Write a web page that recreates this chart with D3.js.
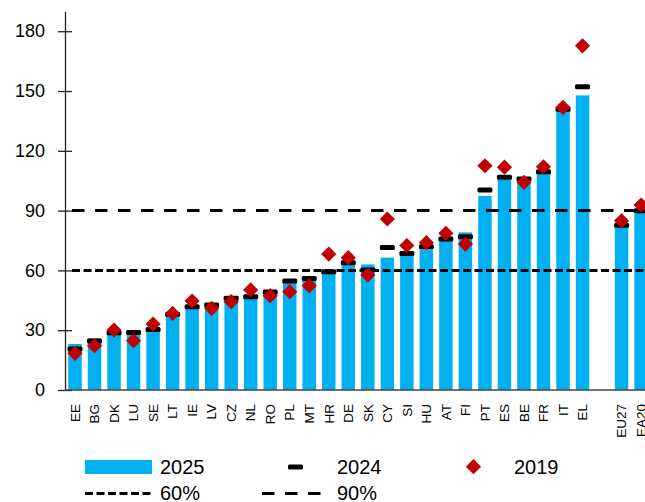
<!DOCTYPE html>
<html>
<head>
<meta charset="utf-8">
<script src="https://cdn.jsdelivr.net/npm/d3@7"></script>
<style>
  html, body { margin: 0; padding: 0; background: #fff; }
  svg { display: block; font-family: "Liberation Sans", Arial, sans-serif; }
</style>
</head>
<body>
<div id="chart"></div>
<script>
// ---- data ----
const categories = ["EE","BG","DK","LU","SE","LT","IE","LV","CZ","NL","RO","PL","MT","HR","DE","SK","CY","SI","HU","AT","FI","PT","ES","BE","FR","IT","EL","","EU27","EA20"];
const values2025 = [23.1,25.9,28.3,27.6,30.9,37.6,41.0,42.0,45.1,46.0,49.5,55.7,56.5,58.8,62.7,63.0,66.4,67.7,70.5,74.9,79.1,97.3,105.7,105.0,108.7,140.4,147.8,null,81.6,88.9];
const values2024 = [20.6,24.6,28.7,28.9,30.4,38.0,41.8,42.6,46.0,46.8,49.2,54.7,56.0,59.3,63.9,60.2,71.5,68.5,71.9,75.7,76.9,100.3,106.7,105.8,109.5,140.8,152.1,null,82.7,89.9];
const values2019 = [18.4,22.2,30.1,24.7,33.1,38.4,44.6,41.0,44.3,50.2,47.3,49.3,52.3,68.2,66.4,57.7,85.8,72.5,73.9,78.6,73.2,112.5,111.8,104.2,112.0,141.8,172.7,null,84.9,92.8];
const refLines = [{label:"60%", value:60, dash:"8,3.5"}, {label:"90%", value:90, dash:"12.5,10.5"}];
const yTicks = [0,30,60,90,120,150,180];
const legendLabels = ["2025","2024","2019","60%","90%"];

// ---- layout ----
const W = 645, H = 502;
const BLUE = "#00B0F0", RED = "#C00000";
const svg = d3.select("#chart").append("svg").attr("width", W).attr("height", H);

const x = d3.scaleBand().domain(categories).range([65, 651.1]).paddingInner(0.31).paddingOuter(0.1675);
const y = d3.scaleLinear().domain([0, 190]).range([390, 11.3]);

const idx = categories.map((c, i) => i).filter(i => values2025[i] != null);

// bars
svg.append("g").selectAll("rect").data(idx).join("rect")
  .attr("x", i => x(categories[i]))
  .attr("width", x.bandwidth())
  .attr("y", i => y(values2025[i]))
  .attr("height", i => y(0) - y(values2025[i]))
  .attr("fill", BLUE);

// reference lines
svg.append("g").selectAll("line").data(refLines).join("line")
  .attr("x1", 72).attr("x2", W)
  .attr("y1", d => y(d.value)).attr("y2", d => y(d.value))
  .attr("stroke", "#000").attr("stroke-width", 3)
  .attr("stroke-dasharray", d => d.dash);

// 2024 dashes
svg.append("g").selectAll("rect").data(idx).join("rect")
  .attr("x", i => x(categories[i]) + x.bandwidth() / 2 - 7.5)
  .attr("width", 15)
  .attr("y", i => y(values2024[i]) - 2.5)
  .attr("height", 5)
  .attr("rx", 1.5)
  .attr("fill", "#000");

// 2019 diamonds
const diamond = "M0,-7.6L7.6,0L0,7.6L-7.6,0Z";
svg.append("g").selectAll("path").data(idx).join("path")
  .attr("d", diamond)
  .attr("transform", i => `translate(${x(categories[i]) + x.bandwidth() / 2},${y(values2019[i])})`)
  .attr("fill", RED);

// y axis
const yAxis = svg.append("g").attr("transform", "translate(65,0)")
  .call(d3.axisLeft(y).tickValues(yTicks).tickSizeOuter(0).tickSizeInner(7).tickPadding(13));
yAxis.select(".domain").attr("stroke", "#222").attr("stroke-width", 1.3);
yAxis.selectAll(".tick line").attr("x1", -7).attr("x2", 7).attr("stroke", "#222").attr("stroke-width", 1.3);
yAxis.selectAll(".tick text").attr("font-size", 18).attr("fill", "#000")
  .attr("font-family", "Liberation Sans, Arial, sans-serif");

// x axis
const xAxis = svg.append("g").attr("transform", "translate(0,390)")
  .call(d3.axisBottom(x).tickSize(0).tickSizeOuter(0));
xAxis.select(".domain").attr("d", `M65,0H${W}`).attr("stroke", "#444").attr("stroke-width", 1.5);
xAxis.selectAll(".tick text")
  .attr("font-size", 13.5).attr("fill", "#000")
  .attr("font-family", "Liberation Sans, Arial, sans-serif")
  .attr("text-anchor", "end")
  .attr("transform", "rotate(-90)")
  .attr("x", -14).attr("y", 0).attr("dy", "0.35em");

// legend
const lg = svg.append("g").attr("font-size", 20).attr("fill", "#000");
lg.append("rect").attr("x", 85).attr("y", 460).attr("width", 67).attr("height", 14).attr("fill", BLUE);
lg.append("text").attr("x", 160).attr("y", 474).text(legendLabels[0]);
lg.append("rect").attr("x", 288).attr("y", 464.5).attr("width", 15).attr("height", 5).attr("rx", 1.5).attr("fill", "#000");
lg.append("text").attr("x", 337).attr("y", 474).text(legendLabels[1]);
lg.append("path").attr("d", diamond).attr("transform", "translate(473.5,466.7)").attr("fill", RED);
lg.append("text").attr("x", 514).attr("y", 474).text(legendLabels[2]);
lg.append("line").attr("x1", 85).attr("x2", 153).attr("y1", 493.5).attr("y2", 493.5)
  .attr("stroke", "#000").attr("stroke-width", 3).attr("stroke-dasharray", refLines[0].dash);
lg.append("text").attr("x", 160).attr("y", 500).text(legendLabels[3]);
lg.append("line").attr("x1", 262).attr("x2", 321).attr("y1", 493.5).attr("y2", 493.5)
  .attr("stroke", "#000").attr("stroke-width", 3).attr("stroke-dasharray", refLines[1].dash);
lg.append("text").attr("x", 337).attr("y", 500).text(legendLabels[4]);
</script>
</body>
</html>
